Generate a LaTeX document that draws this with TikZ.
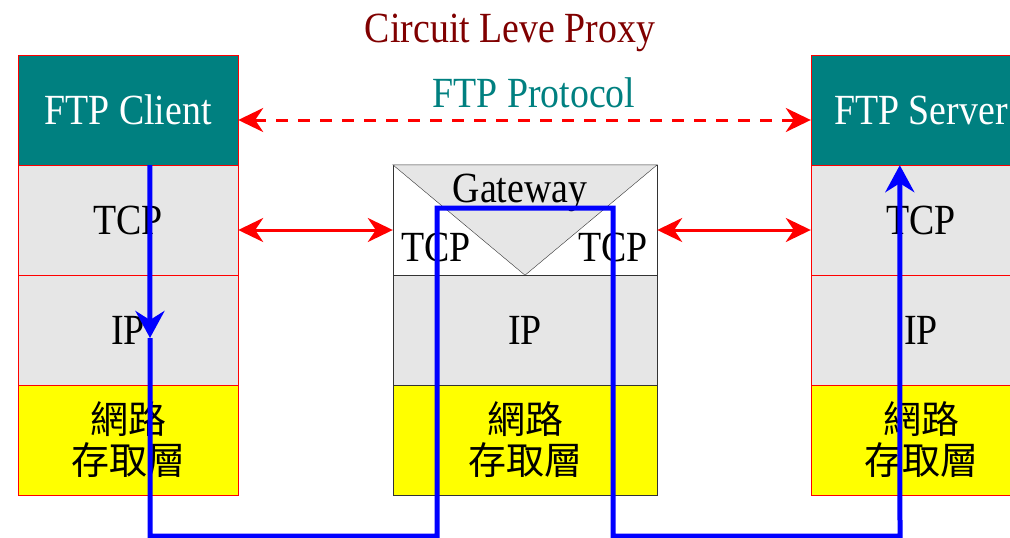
\documentclass[tikz,border=0pt]{standalone}
\usepackage{fontspec}
\setmainfont{Liberation Serif}[FakeStretch=0.88]
\newfontfamily\cjkfont{Noto Sans CJK TC}
\usetikzlibrary{arrows.meta,calc}

\definecolor{appteal}{HTML}{008080}
\definecolor{layergray}{HTML}{E6E6E6}
\definecolor{titlered}{HTML}{800000}
\definecolor{netyellow}{HTML}{FFFF00}
\definecolor{linkred}{HTML}{FF0000}
\definecolor{pathblue}{HTML}{0000FF}
\newcommand{\bigtxt}{\fontsize{43}{50}\selectfont}
\newcommand{\cjktxt}{\cjkfont\fontsize{38}{41}\selectfont}

\begin{document}
\begin{tikzpicture}[x=1pt,y=-1pt]
        \useasboundingbox (0,0) rectangle (1010,538);

        \node[anchor=base, text=titlered, font=\bigtxt] (title) at (510,42) {Circuit Leve Proxy};
        \node[anchor=base, text=appteal, font=\bigtxt] (proto) at (534,107) {FTP Protocol};

        % client and server stacks
        \begin{scope}[every node/.style={draw=linkred, minimum width=220pt, minimum height=110pt, inner sep=0pt, font=\bigtxt, align=center}]
            \node[fill=appteal, text=white] (capp) at (128,110) {FTP Client};
            \node[fill=layergray] (ctcp) at (128,220) {TCP};
            \node[fill=layergray] (cip) at (128,330) {IP};
            \node[fill=netyellow, font=\cjktxt] (cnet) at (128,440) {網路\\存取層};

            \node[fill=appteal, text=white] (sapp) at (921,110) {FTP Server};
            \node[fill=layergray] (stcp) at (921,220) {TCP};
            \node[fill=layergray] (sip) at (921,330) {IP};
            \node[fill=netyellow, font=\cjktxt] (snet) at (921,440) {網路\\存取層};
        \end{scope}

        % gateway
        \begin{scope}[every node/.style={draw=black!80, minimum width=264pt, minimum height=110pt, inner sep=0pt, font=\bigtxt, align=center}]
            \node[fill=white] (gtop) at (525,220) {};
            \node[fill=layergray] (gip) at (525,330) {IP};
            \node[fill=netyellow, font=\cjktxt] (gnet) at (525,440) {網路\\存取層};
        \end{scope}
        \draw[black!80, fill=layergray] (gtop.north west) -- (gtop.north east) -- (gtop.south) -- cycle;
        \node[anchor=base, font=\bigtxt] (gname) at (520,202) {Gateway};
        \node[anchor=base, font=\bigtxt] (gtcpl) at (436,261) {TCP};
        \node[anchor=base, font=\bigtxt] (gtcpr) at (613,261) {TCP};

        % protocol arrows
        \begin{scope}[every edge/.style={draw=linkred, line width=3pt, {Stealth[length=25pt,width=24pt,inset=8pt]}-{Stealth[length=25pt,width=24pt,inset=8pt]}}]
            \path ($(capp.east)+(0,10)$) edge[dash pattern=on 12pt off 10pt] ($(sapp.west)+(0,10)$);
            \path ($(ctcp.east)+(0,10)$) edge ($(gtop.west)+(0,10)$);
            \path ($(gtop.east)+(0,10)$) edge ($(stcp.west)+(0,10)$);
        \end{scope}

        % data path
        \coordinate (cdown) at (150,338);
        \coordinate (c1) at (150,536);
        \coordinate (c2) at (437,536);
        \coordinate (c3) at (437,208);
        \coordinate (c4) at (613,208);
        \coordinate (c5) at (613,536);
        \coordinate (c6) at (900,536);
        \begin{scope}[pathblue, line width=5pt]
            \draw[-{Stealth[length=27pt,width=29pt,inset=9pt]}] ($(capp.south west)+(132,0)$) -- (cdown);
            \draw[-{Stealth[length=27pt,width=29pt,inset=9pt]}] (cdown) -- (c1) -- (c2) -- (c3) -- (c4) -- (c5) -- (c6) -- ($(sapp.south west)+(89,0)$);
        \end{scope}
    \end{tikzpicture}
\end{document}
